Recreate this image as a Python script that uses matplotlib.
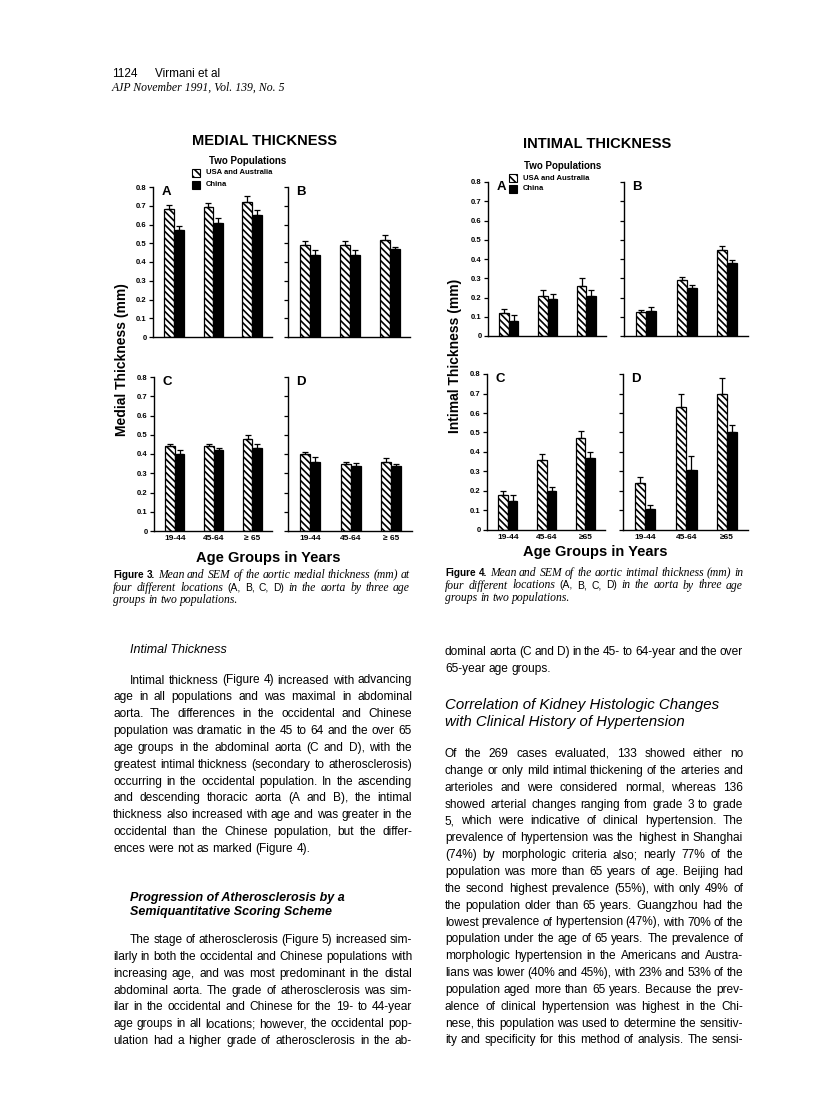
import numpy as np
import matplotlib
matplotlib.use("Agg")
import matplotlib.pyplot as plt
from matplotlib.font_manager import FontProperties
from matplotlib.patches import Rectangle

plt.rcParams["font.family"] = ["Liberation Sans", "DejaVu Sans"]
plt.rcParams["hatch.linewidth"] = 1.2

# ---- data (mm) ----
ages_med = ["19-44", "45-64", "\u2265 65"]
ages_int = ["19-44", "45-64", "\u226565"]

# Figure 3, medial thickness
med_A_usa = [0.685, 0.695, 0.72]; med_A_usa_err = [0.02, 0.02, 0.03]
med_A_chn = [0.57, 0.61, 0.65];   med_A_chn_err = [0.02, 0.025, 0.025]
med_B_usa = [0.49, 0.49, 0.52];   med_B_usa_err = [0.02, 0.02, 0.025]
med_B_chn = [0.44, 0.44, 0.47];   med_B_chn_err = [0.025, 0.025, 0.012]
med_C_usa = [0.44, 0.44, 0.48];   med_C_usa_err = [0.01, 0.01, 0.02]
med_C_chn = [0.40, 0.42, 0.43];   med_C_chn_err = [0.02, 0.01, 0.02]
med_D_usa = [0.40, 0.35, 0.36];   med_D_usa_err = [0.01, 0.01, 0.02]
med_D_chn = [0.36, 0.34, 0.34];   med_D_chn_err = [0.025, 0.013, 0.007]

# Figure 4, intimal thickness
int_A_usa = [0.12, 0.21, 0.26];   int_A_usa_err = [0.02, 0.03, 0.04]
int_A_chn = [0.08, 0.19, 0.21];   int_A_chn_err = [0.03, 0.03, 0.03]
int_B_usa = [0.125, 0.29, 0.445]; int_B_usa_err = [0.012, 0.015, 0.025]
int_B_chn = [0.13, 0.25, 0.38];   int_B_chn_err = [0.02, 0.017, 0.014]
int_C_usa = [0.18, 0.36, 0.47];   int_C_usa_err = [0.02, 0.03, 0.04]
int_C_chn = [0.15, 0.20, 0.37];   int_C_chn_err = [0.03, 0.02, 0.03]
int_D_usa = [0.24, 0.63, 0.70];   int_D_usa_err = [0.03, 0.07, 0.08]
int_D_chn = [0.11, 0.31, 0.50];   int_D_chn_err = [0.02, 0.07, 0.04]

W, H = 816, 1119
fig = plt.figure(figsize=(W / 100, H / 100), dpi=100)
fig.patch.set_facecolor("white")
R = fig.canvas.get_renderer()

def fx(x): return x / W
def fy(y): return 1 - y / H

SANS, SERIF = "Liberation Sans", "Liberation Serif"
GX = np.array([0.53, 1.52, 2.50])   # group centres on a 0..3 axis
BW = 0.245
HATCH = "\\\\\\\\\\"

def panel(l, r, t, b, usa, usa_e, chn, chn_e, letter, ylab, xlab):
    ax = fig.add_axes([fx(l), fy(b), (r - l) / W, (b - t) / H])
    ax.bar(GX - BW / 2, usa, BW, color="white", edgecolor="black", hatch=HATCH, lw=0.9)
    ax.bar(GX + BW / 2, chn, BW, color="black", edgecolor="black", lw=0.9)
    for xs, v, e in ((GX - BW / 2, usa, usa_e), (GX + BW / 2, chn, chn_e)):
        ax.errorbar(xs, v, yerr=[np.zeros(3), e], fmt="none", ecolor="black",
                    elinewidth=0.9, capsize=2.0, capthick=0.9)
    ax.set_xlim(0, 3); ax.set_ylim(0, 0.8)
    for s in ("top", "right"): ax.spines[s].set_visible(False)
    for s in ("left", "bottom"): ax.spines[s].set_linewidth(1.0)
    yt = np.round(np.arange(0, 0.81, 0.1), 1)
    ax.set_yticks(yt)
    ax.set_yticklabels(["0"] + [f"{v:.1f}" for v in yt[1:]] if ylab else [],
                       fontsize=5.5, fontweight="bold")
    ax.tick_params(axis="y", length=3, width=0.9, pad=1.5)
    ax.set_xticks(GX)
    ax.set_xticklabels(xlab if xlab else [], fontsize=6, fontweight="bold")
    ax.tick_params(axis="x", length=0, pad=3)
    ax.annotate(letter, xy=(0, 1), xycoords="axes fraction", xytext=(6, 1),
                textcoords="offset points", ha="left", va="top",
                fontsize=9.5, fontweight="bold")
    return ax

# ---- Figure 3 ----
panel(153, 272, 187, 337, med_A_usa, med_A_usa_err, med_A_chn, med_A_chn_err, "A", True, None)
panel(288, 410, 187, 337, med_B_usa, med_B_usa_err, med_B_chn, med_B_chn_err, "B", False, None)
panel(154, 272, 377, 531, med_C_usa, med_C_usa_err, med_C_chn, med_C_chn_err, "C", True, ages_med)
panel(288, 412, 377, 531, med_D_usa, med_D_usa_err, med_D_chn, med_D_chn_err, "D", False, ages_med)

# ---- Figure 4 ----
panel(488, 606, 182, 336, int_A_usa, int_A_usa_err, int_A_chn, int_A_chn_err, "A", True, None)
panel(624, 748, 182, 336, int_B_usa, int_B_usa_err, int_B_chn, int_B_chn_err, "B", False, None)
panel(487, 605, 374, 530, int_C_usa, int_C_usa_err, int_C_chn, int_C_chn_err, "C", True, ages_int)
panel(623, 748, 374, 530, int_D_usa, int_D_usa_err, int_D_chn, int_D_chn_err, "D", False, ages_int)

def ftext(x, y, s, **kw):
    return fig.text(fx(x), fy(y), s, **kw)

def legend(xbox, y1, y2, title_xy):
    ftext(*title_xy, "Two Populations", ha="center", va="center", fontsize=7, fontweight="bold")
    fig.add_artist(Rectangle((fx(xbox), fy(y1 + 3.5)), 8 / W, 7 / H, transform=fig.transFigure,
                             facecolor="white", edgecolor="black", hatch="\\\\\\\\", lw=0.8))
    fig.add_artist(Rectangle((fx(xbox), fy(y2 + 3.5)), 8 / W, 7 / H, transform=fig.transFigure,
                             facecolor="black", edgecolor="black", lw=0.8))
    ftext(xbox + 14, y1, "USA and Australia", va="center", fontsize=5.5, fontweight="bold")
    ftext(xbox + 14, y2, "China", va="center", fontsize=5.5, fontweight="bold")

ftext(265, 141, "MEDIAL THICKNESS", ha="center", va="center", fontsize=10.5, fontweight="bold")
legend(192, 173, 185, (248, 161))
ftext(122, 360, "Medial Thickness (mm)", ha="center", va="center", rotation=90,
      fontsize=10, fontweight="bold")
ftext(268, 558, "Age Groups in Years", ha="center", va="center", fontsize=10.5, fontweight="bold")

ftext(597, 144, "INTIMAL THICKNESS", ha="center", va="center", fontsize=10.5, fontweight="bold")
legend(509, 178, 189, (563, 166))
ftext(455, 356, "Intimal Thickness (mm)", ha="center", va="center", rotation=90,
      fontsize=10, fontweight="bold")
ftext(595, 552, "Age Groups in Years", ha="center", va="center", fontsize=10.5, fontweight="bold")

# ---- page text ----
def wwidth(s, fp):
    t = fig.text(0, 0, s, fontproperties=fp)
    w = t.get_window_extent(R).width
    t.remove()
    return w

def put_line(runs, x0, x1, y, justify):
    words = [(w, fp) for txt, fp in runs for w in txt.split()]
    widths = [wwidth(w, fp) for w, fp in words]
    sp = wwidth("a a", runs[0][1]) - wwidth("aa", runs[0][1])
    gap = (x1 - x0 - sum(widths)) / (len(words) - 1) if justify and len(words) > 1 else sp
    x = x0
    for (w, fp), wd in zip(words, widths):
        fig.text(fx(x), fy(y), w, fontproperties=fp, va="baseline", ha="left")
        x += wd + gap

def para(lines, x0, x1, y0, dy, fp, indent=0, last_just=False):
    for i, ln in enumerate(lines):
        just = i < len(lines) - 1 or last_just
        put_line([(ln, fp)], x0 + (indent if i == 0 else 0), x1, y0 + i * dy + 4, just)

body = FontProperties(family=SANS, size=8.55)
cap_b = FontProperties(family=SANS, size=7.2, weight="bold")
cap_i = FontProperties(family=SERIF, size=8.4, style="italic")
cap_s = FontProperties(family=SANS, size=7.4)

ftext(112, 74, "1124", fontsize=8.5, va="center")
ftext(155, 74, "Virmani et al", fontsize=8.5, va="center")
ftext(112, 88, "AJP November 1991, Vol. 139, No. 5", fontsize=8.5, va="center",
      family=SERIF, style="italic")

def caption(num, word, x0, x1, y0):
    put_line([(f"Figure {num}.", cap_b), (f"Mean and SEM of the aortic {word} thickness (mm)"
              + (" at" if num == 3 else " in"), cap_i)], x0, x1, y0 + 3, True)
    put_line([("four different locations", cap_i), ("(A, B, C, D)", cap_s),
              ("in the aorta by three age", cap_i)], x0, x1, y0 + 12.5 + 3, True)
    put_line([("groups in two populations.", cap_i)], x0, x1, y0 + 25 + 3, False)

caption(3, "medial", 113, 410, 575)
caption(4, "intimal", 445, 743, 573)

LX0, LX1, RX0, RX1 = 113, 412, 445, 743
DY = 16.85

ftext(130, 650, "Intimal Thickness", fontsize=9, style="italic", va="center")
para(["Intimal thickness (Figure 4) increased with advancing",
      "age in all populations and was maximal in abdominal",
      "aorta. The differences in the occidental and Chinese",
      "population was dramatic in the 45 to 64 and the over 65",
      "age groups in the abdominal aorta (C and D), with the",
      "greatest intimal thickness (secondary to atherosclerosis)",
      "occurring in the occidental population. In the ascending",
      "and descending thoracic aorta (A and B), the intimal",
      "thickness also increased with age and was greater in the",
      "occidental than the Chinese population, but the differ-",
      "ences were not as marked (Figure 4)."],
     LX0, LX1, 679.5, DY, body, indent=17)

ftext(130, 898, "Progression of Atherosclerosis by a", fontsize=9, style="italic",
      fontweight="bold", va="center")
ftext(130, 912, "Semiquantitative Scoring Scheme", fontsize=9, style="italic",
      fontweight="bold", va="center")
para(["The stage of atherosclerosis (Figure 5) increased sim-",
      "ilarly in both the occidental and Chinese populations with",
      "increasing age, and was most predominant in the distal",
      "abdominal aorta. The grade of atherosclerosis was sim-",
      "ilar in the occidental and Chinese for the 19- to 44-year",
      "age groups in all locations; however, the occidental pop-",
      "ulation had a higher grade of atherosclerosis in the ab-"],
     LX0, LX1, 939, DY, body, indent=17, last_just=True)

para(["dominal aorta (C and D) in the 45- to 64-year and the over",
      "65-year age groups."], RX0, RX1, 651, DY, body)

ftext(RX0, 705, "Correlation of Kidney Histologic Changes", fontsize=10.8, style="italic", va="center")
ftext(RX0, 722, "with Clinical History of Hypertension", fontsize=10.8, style="italic", va="center")

para(["Of the 269 cases evaluated, 133 showed either no",
      "change or only mild intimal thickening of the arteries and",
      "arterioles and were considered normal, whereas 136",
      "showed arterial changes ranging from grade 3 to grade",
      "5, which were indicative of clinical hypertension. The",
      "prevalence of hypertension was the highest in Shanghai",
      "(74%) by morphologic criteria also; nearly 77% of the",
      "population was more than 65 years of age. Beijing had",
      "the second highest prevalence (55%), with only 49% of",
      "the population older than 65 years. Guangzhou had the",
      "lowest prevalence of hypertension (47%), with 70% of the",
      "population under the age of 65 years. The prevalence of",
      "morphologic hypertension in the Americans and Austra-",
      "lians was lower (40% and 45%), with 23% and 53% of the",
      "population aged more than 65 years. Because the prev-",
      "alence of clinical hypertension was highest in the Chi-",
      "nese, this population was used to determine the sensitiv-",
      "ity and specificity for this method of analysis. The sensi-"],
     RX0, RX1, 753, DY, body, last_just=True)

fig.savefig("out.png", dpi=100, facecolor="white")
